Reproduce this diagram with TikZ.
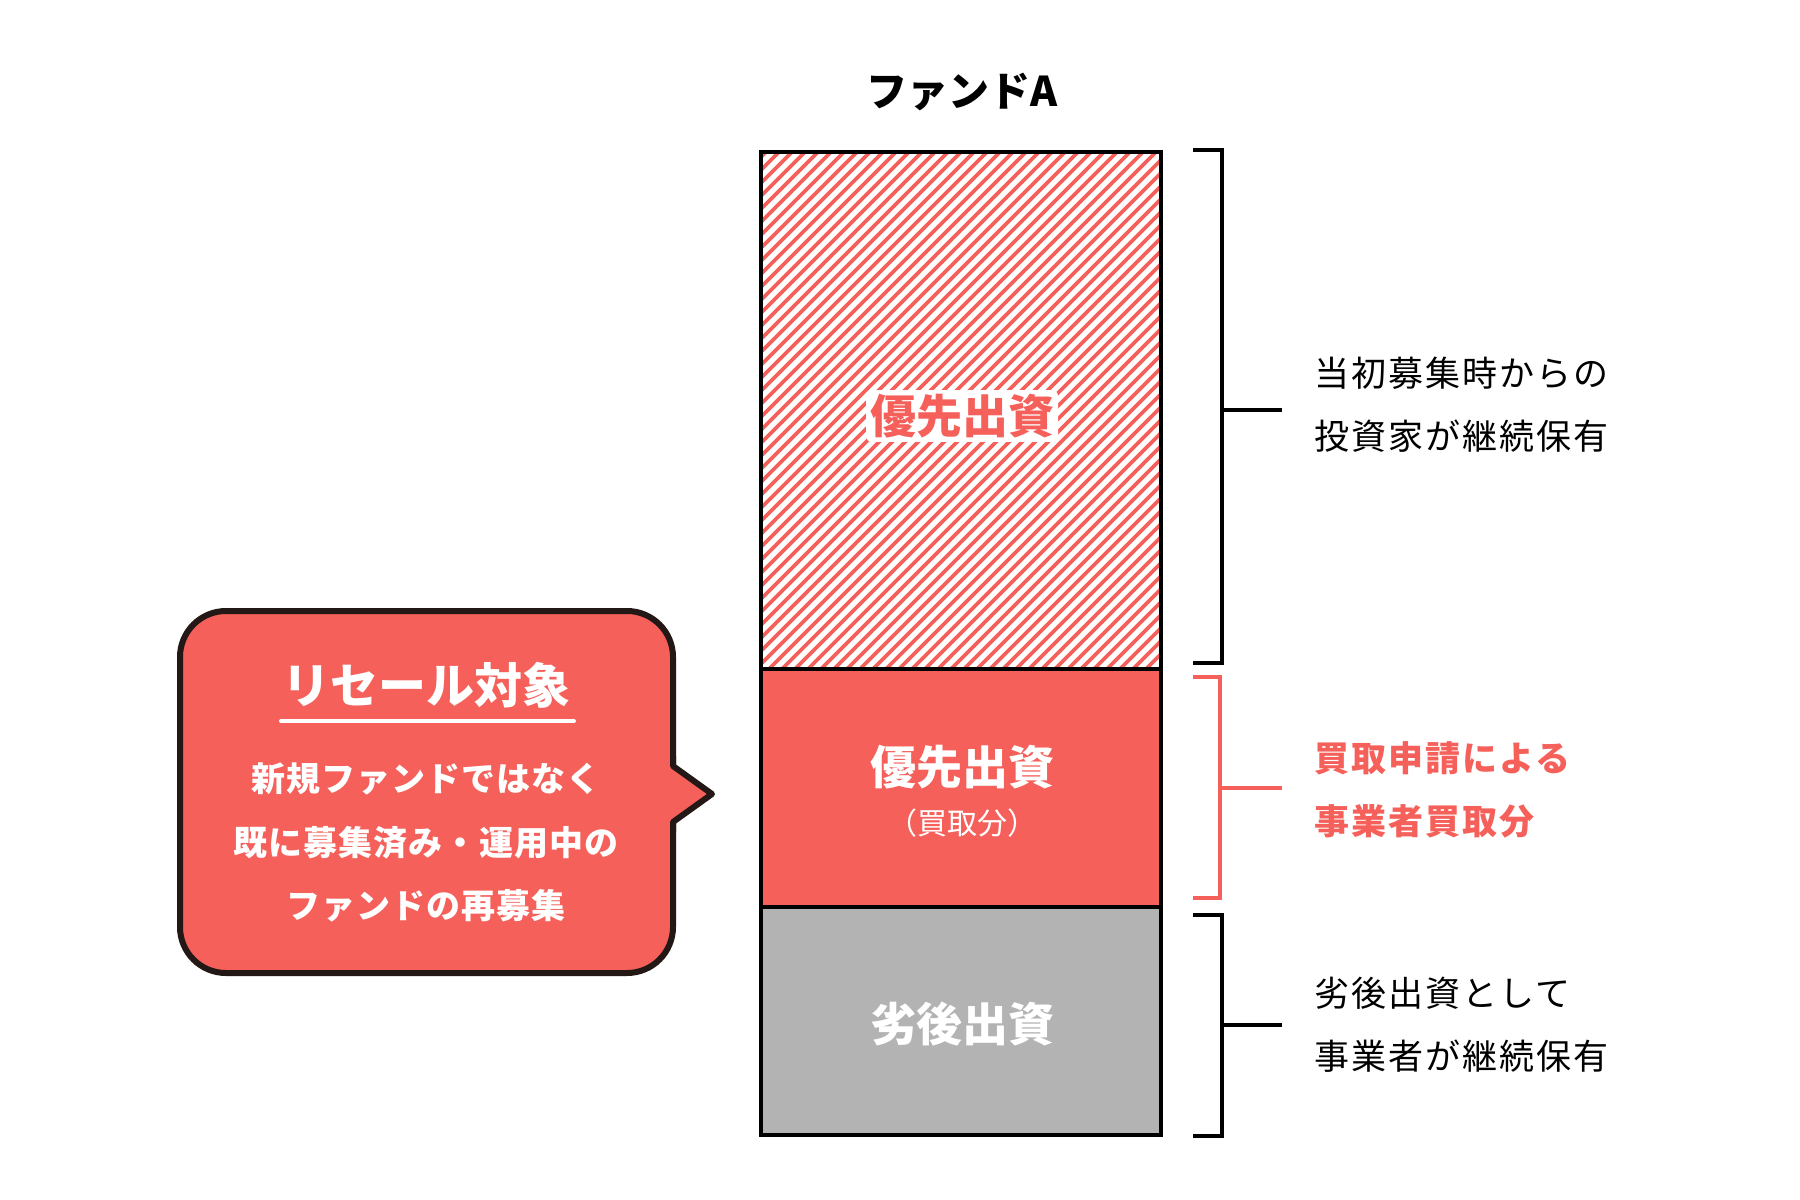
\documentclass[tikz,border=0pt]{standalone}
\usepackage{fontspec}
\setmainfont{Noto Sans CJK JP}
\newfontfamily\sidefont{Noto Sans CJK JP}[LetterSpace=6]
\newfontfamily\heavyfont{Noto Sans CJK JP Black}
\newfontfamily\bubblefont{Noto Sans CJK JP}[LetterSpace=3]
\definecolor{accent}{HTML}{F5605A}
\definecolor{graybox}{HTML}{B3B3B3}
\definecolor{ink}{HTML}{231815}
\newcommand\setfs[1]{\fontsize{#1}{#1}\selectfont}
\begin{document}
\begin{tikzpicture}[x=1pt,y=-1pt,
  lbl/.style={inner sep=0pt, anchor=center},
  sidetxt/.style={inner sep=0pt, anchor=west, font=\sidefont\setfs{35pt}},
  bracket/.style={line width=4pt, line join=miter},
  box/.style={line width=4.5pt}]
\useasboundingbox (0,0) rectangle (1800,1200);
% title
\node[lbl, font=\heavyfont\setfs{41pt}] (title) at (962,92) {ファンドA};
% hatched top part
\begin{scope}
\clip (761,152) rectangle (1161,669);
\foreach \c in {905,918,...,1845}
  \draw[accent, line width=3.6pt] ({\c-700},700) -- ({\c-100},100);
\end{scope}
\fill[accent] (761,669) rectangle (1161,907);
\fill[graybox] (761,907) rectangle (1161,1135);
\draw[box] (761,152) rectangle (1161,1135);
\draw[box] (761,669) -- (1161,669);
\draw[box] (761,907) -- (1161,907);
% box labels
\node[lbl, font=\heavyfont\setfs{46pt}, text=accent, fill=white, inner sep=4pt, rounded corners=6pt] (senior1) at (962,416) {優先出資};
\node[lbl, font=\heavyfont\setfs{46pt}, text=white] (senior2) at (962,767) {優先出資};
\node[lbl, font=\setfs{30pt}, text=white] (buy) at (962,823) {（買取分）};
\node[lbl, font=\heavyfont\setfs{46pt}, text=white] (junior) at (962,1024) {劣後出資};
% brackets
\draw[bracket] (1193,150) -- (1222,150) -- (1222,663) -- (1193,663);
\draw[bracket] (1222,410) -- (1282,410);
\draw[bracket, accent, line width=3.5pt] (1193,677) -- (1220,677) -- (1220,898) -- (1193,898);
\draw[bracket, accent, line width=3.5pt] (1220,788) -- (1282,788);
\draw[bracket] (1193,915) -- (1222,915) -- (1222,1136) -- (1193,1136);
\draw[bracket] (1222,1025) -- (1282,1025);
% side texts
\node[sidetxt] (t1a) at (1314,373) {当初募集時からの};
\node[sidetxt] (t1b) at (1314,436) {投資家が継続保有};
\node[sidetxt, text=accent, font=\sidefont\setfs{35pt}\bfseries] (t2a) at (1314,758) {買取申請による};
\node[sidetxt, text=accent, font=\sidefont\setfs{35pt}\bfseries] (t2b) at (1314,821) {事業者買取分};
\node[sidetxt] (t3a) at (1314,993) {劣後出資として};
\node[sidetxt] (t3b) at (1314,1056) {事業者が継続保有};
% callout
\node[draw=ink, fill=accent, line width=6pt, rounded corners=46pt,
      minimum width=493pt, minimum height=362pt, inner sep=0pt] (bubble) at (426.5,792) {};
\coordinate (ptop) at (673,766);
\coordinate (tip) at (712,794);
\coordinate (pbot) at (673,822);
\fill[accent] (667,766) -- (ptop) -- (tip) -- (pbot) -- (667,822) -- cycle;
\draw[ink, line width=6pt, line join=round] (673,756) -- (ptop) -- (tip) -- (pbot) -- (673,832);
\node[lbl, font=\heavyfont\setfs{48pt}, text=white] (resale) at (426,685) {リセール対象};
\draw[white, line width=4pt, line cap=round] (281,721) -- (574,721);
\node[lbl, font=\bubblefont\setfs{34pt}\bfseries, text=white] (l1) at (426,779) {新規ファンドではなく};
\node[lbl, font=\bubblefont\setfs{34pt}\bfseries, text=white] (l2) at (426,843) {既に募集済み・運用中の};
\node[lbl, font=\bubblefont\setfs{34pt}\bfseries, text=white] (l3) at (426,906) {ファンドの再募集};
\end{tikzpicture}
\end{document}
